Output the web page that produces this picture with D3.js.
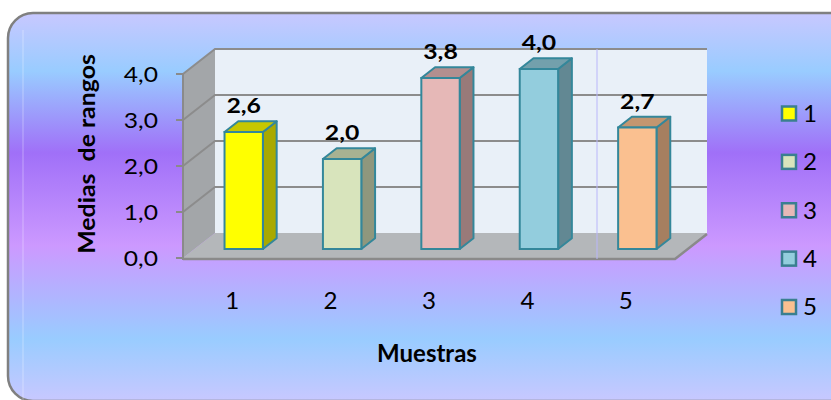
<!DOCTYPE html>
<html>
<head>
<meta charset="utf-8">
<script src="https://cdn.jsdelivr.net/npm/d3@7"></script>
<style>
  body { margin: 0; background: #fff; }
  text { font-family: Lato, "Open Sans", sans-serif; fill: #000; }
</style>
</head>
<body>
<svg id="chart" width="831" height="400"></svg>
<script>
// data
const categories = ["1", "2", "3", "4", "5"];
const values = [2.6, 2.0, 3.8, 4.0, 2.7];
const labels = ["2,6", "2,0", "3,8", "4,0", "2,7"];
const yTicks = [0, 1, 2, 3, 4];
const yTickLabels = ["0,0", "1,0", "2,0", "3,0", "4,0"];
const colors = ["#ffff00", "#d8e4bc", "#e6b8b7", "#93cddd", "#fac090"];

const svg = d3.select("#chart");

// text helper: the original text is a bit wider than Lato, so stretch it in x
function label(parent, x, y, str, o) {
  o = o || {};
  const rot = o.rotate ? ` rotate(${o.rotate})` : "";
  return parent.append("text")
    .attr("transform", `translate(${x},${y})${rot} scale(${o.sx || 1},1)`)
    .attr("dy", o.dy || 0)
    .attr("text-anchor", o.anchor || "middle")
    .attr("font-size", o.size || 22)
    .attr("font-weight", o.weight || "normal")
    .style("white-space", "pre")
    .text(str);
}

// background gradient
const defs = svg.append("defs");
const grad = defs.append("linearGradient")
  .attr("id", "bg").attr("x1", 0).attr("y1", 0).attr("x2", 0).attr("y2", 1);
[[0, "#c8c8ff"], [0.15, "#99ccff"], [0.36, "#a070f8"], [0.6, "#cc99ff"], [0.84, "#99ccff"], [1, "#c8c8ff"]]
  .forEach(s => grad.append("stop").attr("offset", s[0]).attr("stop-color", s[1]));

svg.append("rect")
  .attr("x", 8).attr("y", 13).attr("width", 900).attr("height", 388)
  .attr("rx", 25)
  .attr("fill", "url(#bg)")
  .attr("stroke", "#808080").attr("stroke-width", 2.5);
svg.append("line")
  .attr("x1", 23).attr("x2", 23).attr("y1", 30).attr("y2", 400)
  .attr("stroke", "#fff").attr("stroke-opacity", 0.35);

// scales
const x = d3.scaleBand().domain(categories).range([183, 675]);
const y = d3.scaleLinear().domain([0, 4]).range([258, 74]);
const depth = { dx: 32, dy: -25 };   // back wall offset
const z0 = 0.36, zd = 0.43;          // bar position / thickness in depth
const barBase = y(0) + depth.dy * z0;
const yBar = d3.scaleLinear().domain([0, 4]).range([barBase, barBase - 180]);

const poly = pts => "M" + pts.map(p => p.join(",")).join("L") + "Z";
const xl = x.range()[0], xr = x.range()[1];

// left wall
svg.append("path")
  .attr("d", poly([[xl, y(4)], [xl + depth.dx, y(4) + depth.dy], [xl + depth.dx, y(0) + depth.dy], [xl, y(0)]]))
  .attr("fill", "#a3a6a9");

// back wall
svg.append("path")
  .attr("d", poly([[xl + depth.dx, y(4) + depth.dy], [xr + depth.dx, y(4) + depth.dy], [xr + depth.dx, y(0) + depth.dy], [xl + depth.dx, y(0) + depth.dy]]))
  .attr("fill", "#e9f0f8");

// gridlines
yTicks.filter(v => v > 0).forEach(v => {
  svg.append("path")
    .attr("d", `M${xl},${y(v)}L${xl + depth.dx},${y(v) + depth.dy}L${xr + depth.dx},${y(v) + depth.dy}`)
    .attr("fill", "none").attr("stroke", "#8c8c8c").attr("stroke-width", 2);
});

// floor
svg.append("path")
  .attr("d", poly([[xl, y(0)], [xl + depth.dx, y(0) + depth.dy], [xr + depth.dx, y(0) + depth.dy], [xr, y(0)]]))
  .attr("fill", "#b4b7ba");
svg.append("path")
  .attr("d", `M${xl},${y(0) + 1}L${xr},${y(0) + 1}L${xr + depth.dx},${y(0) + depth.dy + 1}`)
  .attr("fill", "none").attr("stroke", "#8a8a8a").attr("stroke-width", 2.5);

// faint vertical line on back wall
svg.append("line")
  .attr("x1", 597).attr("x2", 597).attr("y1", y(4) + depth.dy).attr("y2", y(0) + 1)
  .attr("stroke", "#b9b6fa").attr("stroke-width", 1);

// y axis
svg.append("line")
  .attr("x1", xl).attr("x2", xl).attr("y1", y(4)).attr("y2", y(0) + 2)
  .attr("stroke", "#8a8a8a").attr("stroke-width", 2);
svg.selectAll(".ytick").data(yTicks).enter().append("line")
  .attr("x1", xl - 7).attr("x2", xl).attr("y1", d => y(d)).attr("y2", d => y(d))
  .attr("stroke", "#8a8a8a").attr("stroke-width", 2);
yTicks.forEach((d, i) => label(svg, 158, y(d), yTickLabels[i], { anchor: "end", size: 22, sx: 1.12, dy: "0.36em" }));

// bars
const bw = x.bandwidth() * 0.39;
const bdx = depth.dx * zd, bdy = depth.dy * zd;
const bars = svg.selectAll(".bar").data(values).enter().append("g");
bars.each(function (v, i) {
  const g = d3.select(this);
  const c = categories[i];
  const x0 = x(c) + x.bandwidth() / 2 - bw / 2 + depth.dx * z0;
  const x1 = x0 + bw;
  const yt = yBar(v), yb = yBar(0);
  const col = d3.color(colors[i]);
  const stroke = "#34879a";
  g.append("path")
    .attr("d", poly([[x1, yt], [x1 + bdx, yt + bdy], [x1 + bdx, yb + bdy], [x1, yb]]))
    .attr("fill", col.darker(1.15)).attr("stroke", stroke).attr("stroke-width", 2).attr("stroke-linejoin", "round");
  g.append("path")
    .attr("d", poly([[x0, yt], [x0 + bdx, yt + bdy], [x1 + bdx, yt + bdy], [x1, yt]]))
    .attr("fill", col.darker(0.7)).attr("stroke", stroke).attr("stroke-width", 2).attr("stroke-linejoin", "round");
  g.append("rect")
    .attr("x", x0).attr("y", yt).attr("width", bw).attr("height", yb - yt)
    .attr("fill", colors[i]).attr("stroke", stroke).attr("stroke-width", 2);
  label(g, (x0 + x1) / 2, yt - 19, labels[i], { size: 21, weight: "bold", sx: 1.18 });
});

// category labels
categories.forEach(d => label(svg, x(d) + x.bandwidth() / 2, 309, d, { size: 23, sx: 1.05 }));

// axis titles
label(svg, 427, 362, "Muestras", { size: 24, weight: "bold" });
label(svg, 95, 154, "Medias  de rangos", { size: 22, weight: "bold", rotate: -90, sx: 1.13 });

// legend
const legY = d3.scalePoint().domain(categories).range([113.5, 307]);
const leg = svg.selectAll(".leg").data(categories).enter().append("g")
  .attr("transform", d => `translate(789,${legY(d)})`);
leg.append("rect")
  .attr("x", -7).attr("y", -7).attr("width", 14).attr("height", 14)
  .attr("fill", (d, i) => colors[i]).attr("stroke", "#3a7f90").attr("stroke-width", 2.5);
leg.each(function (d) { label(d3.select(this), 14, 0, d, { anchor: "start", size: 23, sx: 1.05, dy: "0.36em" }); });
</script>
</body>
</html>
